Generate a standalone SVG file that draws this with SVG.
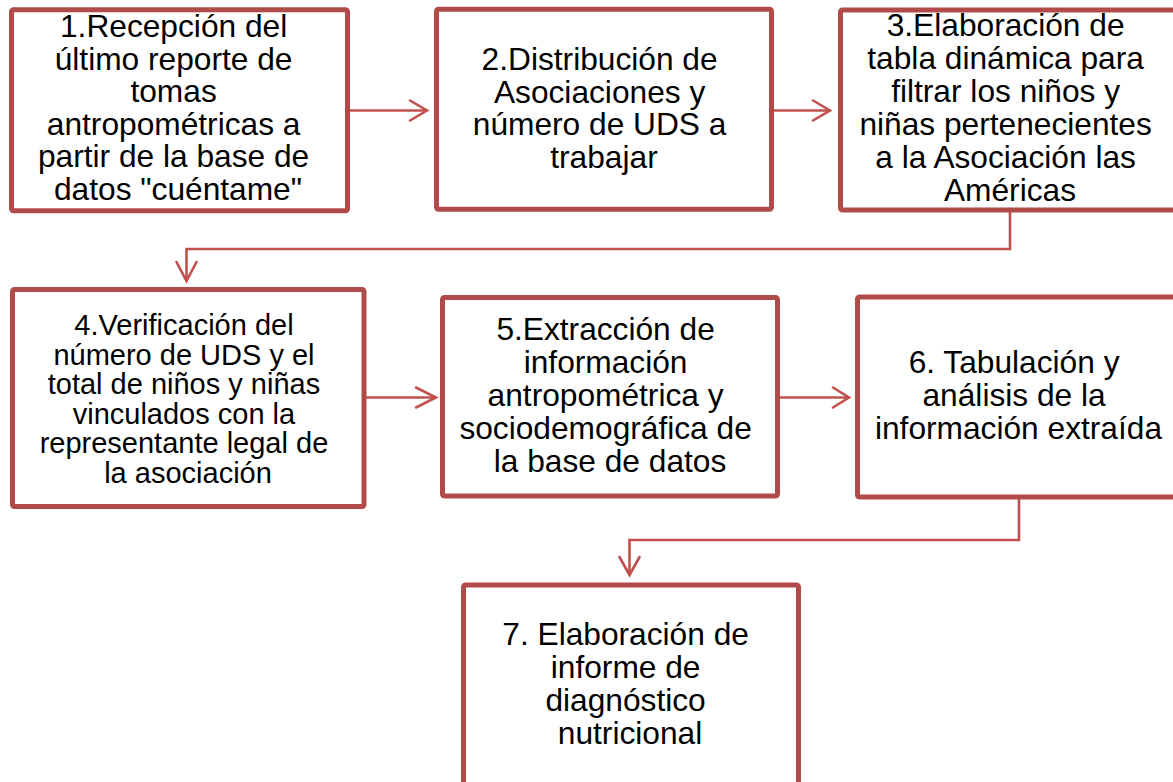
<svg xmlns="http://www.w3.org/2000/svg" width="1173" height="782" viewBox="0 0 1173 782">
  <defs>
    <style>
      .box { fill: #FFFFFF; stroke: #B14B49; stroke-width: 5; }
      .lbl { font-family: "Liberation Sans", Arial, sans-serif; font-size: 31.7px; fill: #000000; text-anchor: middle; }
      .small { font-size: 29px; }
      .conn { fill: none; stroke: #C0504D; stroke-width: 2.6; }
      .head { fill: none; stroke: #C0504D; stroke-width: 2.6; stroke-linecap: round; stroke-linejoin: miter; }
    </style>
  </defs>
  <rect width="1173" height="782" fill="#FFFFFF"/>

  <g id="connectors">
    <line class="conn" x1="349" y1="110.5" x2="427" y2="110.5"/>
    <polyline class="head" points="410,100.5 427,110.5 410,120.5"/>

    <line class="conn" x1="774" y1="110.5" x2="830" y2="110.5"/>
    <polyline class="head" points="813,100.5 830,110.5 813,120.5"/>

    <polyline class="conn" points="1010,212 1010,249 186.5,249 186.5,281"/>
    <polyline class="head" points="176.5,262 186.5,281 196.5,262"/>

    <line class="conn" x1="366" y1="397.5" x2="436" y2="397.5"/>
    <polyline class="head" points="416,387.5 436,397.5 416,407.5"/>

    <line class="conn" x1="780" y1="397.5" x2="849" y2="397.5"/>
    <polyline class="head" points="833,387.5 849,397.5 833,407.5"/>

    <polyline class="conn" points="1019,499 1019,540 629.5,540 629.5,575"/>
    <polyline class="head" points="619.5,557 629.5,575 639.5,557"/>
  </g>

  <g id="node1">
    <rect class="box" x="11.5" y="9.8" width="336" height="201" rx="2"/>
    <text class="lbl">
      <tspan x="178" y="36.8">1.Recepción del</tspan>
      <tspan x="178" y="69.5">último reporte de</tspan>
      <tspan x="178" y="102.1">tomas</tspan>
      <tspan x="178" y="134.8">antropométricas a</tspan>
      <tspan x="178" y="167.4">partir de la base de</tspan>
      <tspan x="178" y="200">datos "cuéntame"</tspan>
    </text>
  </g>

  <g id="node2">
    <rect class="box" x="436.5" y="9.2" width="335" height="200" rx="2"/>
    <text class="lbl">
      <tspan x="604" y="70">2.Distribución de</tspan>
      <tspan x="604" y="102.5">Asociaciones y</tspan>
      <tspan x="604" y="135">número de UDS a</tspan>
      <tspan x="604" y="167.5">trabajar</tspan>
    </text>
  </g>

  <g id="node3">
    <rect class="box" x="840.5" y="10" width="340" height="200" rx="2"/>
    <text class="lbl">
      <tspan x="1010" y="36">3.Elaboración de</tspan>
      <tspan x="1010" y="69">tabla dinámica para</tspan>
      <tspan x="1010" y="102">filtrar los niños y</tspan>
      <tspan x="1010" y="135">niñas pertenecientes</tspan>
      <tspan x="1010" y="168">a la Asociación las</tspan>
      <tspan x="1010" y="201">Américas</tspan>
    </text>
  </g>

  <g id="node4">
    <rect class="box" x="12.5" y="289.5" width="351.5" height="217" rx="2"/>
    <text class="lbl small">
      <tspan x="188" y="335">4.Verificación del</tspan>
      <tspan x="188" y="364.5">número de UDS y el</tspan>
      <tspan x="188" y="394">total de niños y niñas</tspan>
      <tspan x="188" y="423.5">vinculados con la</tspan>
      <tspan x="188" y="453">representante legal de</tspan>
      <tspan x="188" y="482.5">la asociación</tspan>
    </text>
  </g>

  <g id="node5">
    <rect class="box" x="442.5" y="297.5" width="335" height="198.5" rx="2"/>
    <text class="lbl">
      <tspan x="610" y="340">5.Extracción de</tspan>
      <tspan x="610" y="373">información</tspan>
      <tspan x="610" y="406">antropométrica y</tspan>
      <tspan x="610" y="439">sociodemográfica de</tspan>
      <tspan x="610" y="472">la base de datos</tspan>
    </text>
  </g>

  <g id="node6">
    <rect class="box" x="857.5" y="297" width="325" height="200" rx="2"/>
    <text class="lbl">
      <tspan x="1018.5" y="373">6. Tabulación y</tspan>
      <tspan x="1018.5" y="406">análisis de la</tspan>
      <tspan x="1018.5" y="439">información extraída</tspan>
    </text>
  </g>

  <g id="node7">
    <rect class="box" x="463.5" y="585" width="335" height="204" rx="2"/>
    <text class="lbl">
      <tspan x="630" y="645">7. Elaboración de</tspan>
      <tspan x="630" y="678">informe de</tspan>
      <tspan x="630" y="711">diagnóstico</tspan>
      <tspan x="630" y="744">nutricional</tspan>
    </text>
  </g>
</svg>
